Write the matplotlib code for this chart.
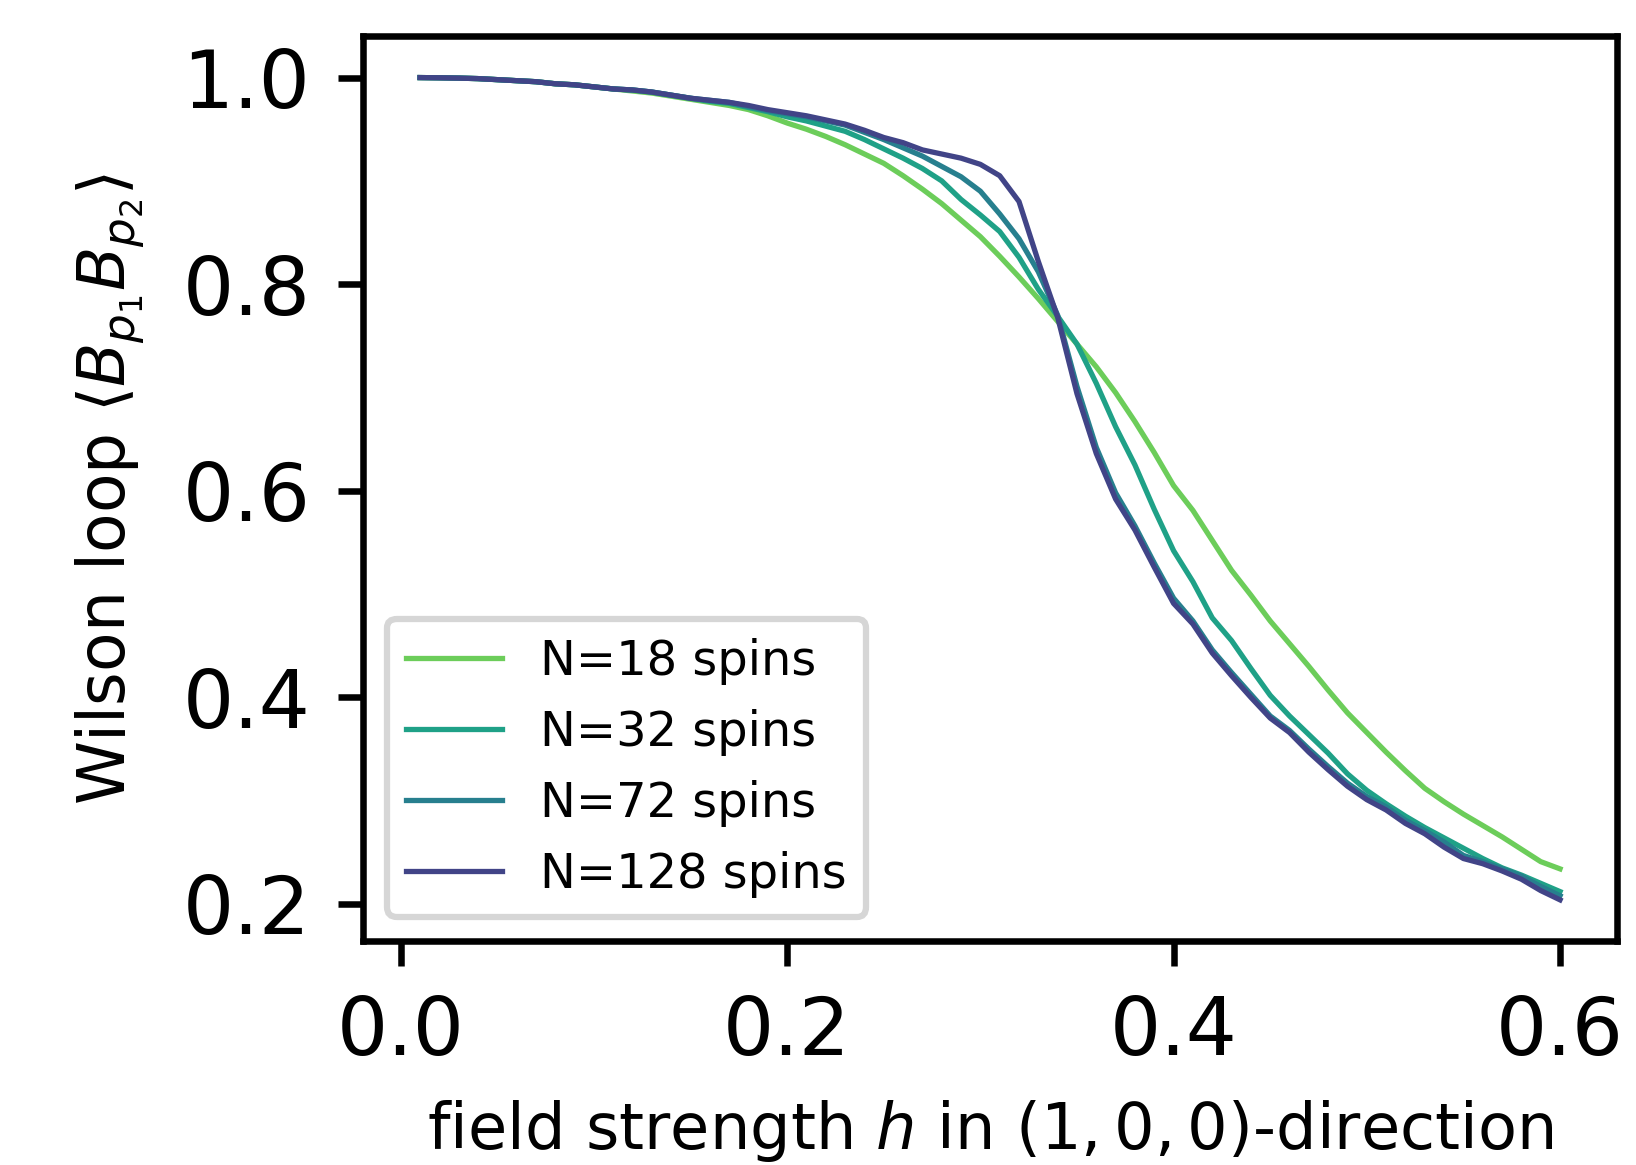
import numpy as np
import matplotlib
matplotlib.use("Agg")
import matplotlib.pyplot as plt

# field strength h
h = np.round(np.arange(1, 61) * 0.01, 2)

# Wilson loop values, one list per system size
n18 = [1.000, 0.9998, 0.9995, 0.999, 0.998, 0.997, 0.996, 0.994, 0.993, 0.991,
       0.989, 0.987, 0.985, 0.982, 0.979, 0.976, 0.973, 0.969, 0.963, 0.956,
       0.950, 0.943, 0.935, 0.926, 0.917, 0.905, 0.892, 0.878, 0.862, 0.846,
       0.827, 0.807, 0.786, 0.764, 0.742, 0.720, 0.695, 0.667, 0.637, 0.605,
       0.581, 0.552, 0.523, 0.499, 0.474, 0.452, 0.430, 0.407, 0.385, 0.366,
       0.347, 0.329, 0.312, 0.299, 0.287, 0.276, 0.265, 0.253, 0.241, 0.234]

n32 = [1.000, 0.9998, 0.9995, 0.999, 0.998, 0.997, 0.996, 0.994, 0.993, 0.991,
       0.989, 0.988, 0.986, 0.983, 0.980, 0.977, 0.975, 0.971, 0.967, 0.962,
       0.958, 0.953, 0.948, 0.940, 0.931, 0.922, 0.912, 0.900, 0.882, 0.867,
       0.851, 0.826, 0.795, 0.769, 0.742, 0.704, 0.662, 0.625, 0.582, 0.542,
       0.512, 0.477, 0.455, 0.428, 0.402, 0.382, 0.364, 0.346, 0.326, 0.310,
       0.297, 0.285, 0.274, 0.264, 0.254, 0.244, 0.235, 0.228, 0.220, 0.212]

n72 = [1.000, 0.9998, 0.9995, 0.999, 0.998, 0.997, 0.996, 0.994, 0.993, 0.991,
       0.989, 0.988, 0.986, 0.983, 0.980, 0.978, 0.976, 0.972, 0.968, 0.965,
       0.962, 0.958, 0.954, 0.947, 0.940, 0.932, 0.924, 0.914, 0.904, 0.890,
       0.868, 0.844, 0.812, 0.770, 0.701, 0.642, 0.598, 0.566, 0.530, 0.496,
       0.474, 0.446, 0.424, 0.403, 0.382, 0.368, 0.350, 0.333, 0.317, 0.304,
       0.294, 0.281, 0.271, 0.260, 0.247, 0.241, 0.234, 0.227, 0.217, 0.208]

n128 = [1.000, 0.9998, 0.9995, 0.999, 0.998, 0.997, 0.996, 0.994, 0.993, 0.991,
        0.989, 0.988, 0.986, 0.983, 0.980, 0.978, 0.976, 0.973, 0.969, 0.966,
        0.963, 0.959, 0.955, 0.949, 0.942, 0.937, 0.930, 0.926, 0.922, 0.916,
        0.905, 0.880, 0.822, 0.768, 0.694, 0.636, 0.592, 0.562, 0.526, 0.491,
        0.471, 0.443, 0.421, 0.400, 0.380, 0.366, 0.347, 0.330, 0.314, 0.301,
        0.291, 0.278, 0.268, 0.255, 0.244, 0.239, 0.232, 0.224, 0.213, 0.204]

labels = ["N=18 spins", "N=32 spins", "N=72 spins", "N=128 spins"]
colors = ["#6ccd5a", "#1fa187", "#277f8e", "#414487"]

plt.rcParams["axes.linewidth"] = 4.7
plt.rcParams["xtick.major.width"] = 4.7
plt.rcParams["ytick.major.width"] = 4.7
plt.rcParams["xtick.major.size"] = 18
plt.rcParams["ytick.major.size"] = 18

fig = plt.figure(figsize=(16.36, 11.65), dpi=100)
ax = fig.add_axes([0.2219, 0.1923, 0.7665, 0.7764])

for y, lab, c in zip([n18, n32, n72, n128], labels, colors):
    ax.plot(h, y, color=c, lw=3.8, label=lab)

ax.set_xticks([0.0, 0.2, 0.4, 0.6])
ax.set_yticks([0.2, 0.4, 0.6, 0.8, 1.0])
ax.tick_params(labelsize=58, pad=20)

ax.set_xlabel(r"field strength $h$ in $(1, 0, 0)$-direction", fontsize=46, labelpad=19)
ax.set_ylabel(r"Wilson loop $\langle B_{p_1} B_{p_2} \rangle$", fontsize=46.5, labelpad=26)

leg = ax.legend(loc="lower left", fontsize=34.5)
leg.get_frame().set_linewidth(4.5)
for line in leg.get_lines():
    line.set_linewidth(3.8)

fig.savefig("out.png", dpi=100)
